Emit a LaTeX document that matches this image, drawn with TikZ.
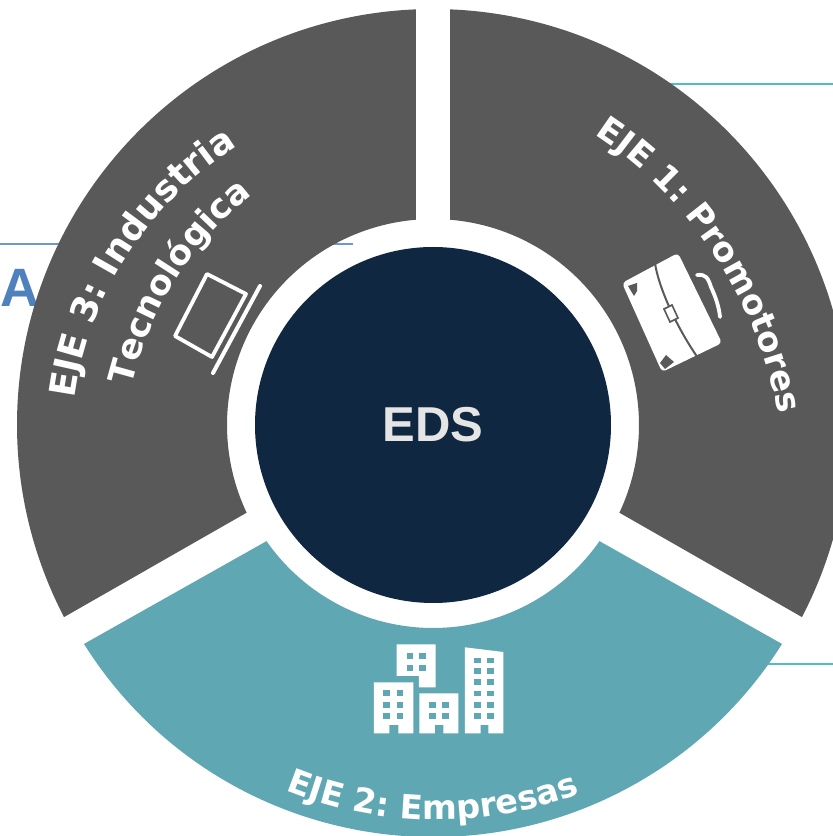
\documentclass[tikz,border=0pt]{standalone}
\usepackage{fontspec}
\setmainfont{DejaVu Sans}
\newfontfamily\edsfont{Liberation Sans}
\usetikzlibrary{calc,decorations.text}
\definecolor{sectorgray}{HTML}{595959}
\definecolor{sectorteal}{HTML}{60A7B4}
\definecolor{hubnavy}{HTML}{0F2740}
\definecolor{ruleteal}{HTML}{4FBCCB}
\definecolor{ruleblue}{HTML}{6F97D5}
\definecolor{titleblue}{HTML}{4F81BD}
\newcommand\axisfont[1]{\bfseries\fontsize{#1}{#1}\selectfont\color{white}}
\tikzset{
  px/.style={x=1pt,y=-1pt,shift={(0pt,836pt)}},
  iconline/.style={draw=white,line cap=round,line join=round,fill=none},
  axistext/.style 2 args={decorate,decoration={text along path,text align=center,text={|\axisfont{#1}|#2}}}
}
\begin{document}
\begin{tikzpicture}[x=1pt,y=1pt]
\useasboundingbox (0,0) rectangle (833,836);
\clip (0,0) rectangle (833,836);
\fill[white] (0,0) rectangle (833,836);
\coordinate (c) at (433,411);
\begin{scope}[px]
  \draw[ruleteal,line width=1.2pt] (660,84) -- (833,84);
  \draw[ruleblue,line width=1.2pt] (0,244) -- (353,244);
  \draw[ruleteal,line width=1.2pt] (760,664) -- (833,664);
  \node[anchor=base east,inner sep=0pt,text=titleblue,font=\edsfont\bfseries\fontsize{54}{54}\selectfont] (title) at (40,307) {CA};
\end{scope}
\fill[sectorgray] ($(c)+(87.65:416pt)$) arc (87.65:-27.5:416pt) -- ($(c)+(-25.2:206pt)$) arc (-25.2:85.2:206pt) -- cycle;
\fill[sectorgray] ($(c)+(92.35:416pt)$) arc (92.35:207.5:416pt) -- ($(c)+(205.2:206pt)$) arc (205.2:94.8:206pt) -- cycle;
\fill[sectorteal] ($(c)+(212.1:412pt)$) arc (212.1:327.9:412pt) -- ($(c)+(325.1:203pt)$) arc (325.1:214.9:203pt) -- cycle;
\node[circle,fill=hubnavy,minimum size=356pt,inner sep=0pt,text=white!90!black,font=\edsfont\bfseries\fontsize{49}{49}\selectfont] (hub) at (c) {EDS};
\begin{scope}[px]
  \path[axistext={34}{EJE 1: Promotores}] (590,132) .. controls (686,192) and (758,298) .. (780,420);
  \path[axistext={36}{EJE 3: Industria}] (74,405) .. controls (85,300) and (150,198) .. (243,143);
  \path[axistext={34.5}{Tecnológica}] (131,388) .. controls (150,310) and (190,242) .. (254,194);
  \path[axistext={33.5}{EJE 2: Empresas}] (280,788) .. controls (380,830) and (490,830) .. (585,791);
  % briefcase
  \fill[white,rounded corners=4pt] (622,283) -- (678,253) -- (722,343) -- (662,372) -- cycle;
  \draw[sectorgray,line width=2pt] (655,263) .. controls (658,285) and (675,325) .. (698,358);
  \fill[white,draw=sectorgray,line width=1.6pt] (664,309) -- (672,305) -- (678,318) -- (670,322) -- cycle;
  \fill[sectorgray] (628,286) -- (637,283) -- (637,291) -- (634,296) -- cycle;
  \fill[sectorgray] (665,369) -- (660,363) -- (666,355) -- (674,362) -- cycle;
  \draw[iconline,line width=3.8pt] (697,275) .. controls (706,274) and (708,278) .. (711,287) .. controls (716,298) and (719,307) .. (720,317);
  % laptop
  \draw[iconline,line width=3.8pt] (207,274) -- (246,294) -- (212,357) -- (175,336) -- cycle;
  \draw[iconline,line width=4pt] (260,286) -- (213,373);
  % buildings
  \begin{scope}[shift={(270,630)},x=0.3333pt,y=-0.3333pt]
    \fill[white] (380,43) -- (497,43) -- (497,172) -- (447,172) -- (447,138) -- (380,138) -- cycle;
    \fill[white] (312,157) -- (430,157) -- (430,310) -- (385,310) -- (385,285) -- (358,285) -- (358,310) -- (312,310) -- cycle;
    \fill[white] (448,190) -- (565,190) -- (565,310) -- (520,310) -- (520,285) -- (495,285) -- (495,310) -- (448,310) -- cycle;
    \fill[white] (585,52) -- (700,66) -- (700,310) -- (655,310) -- (655,285) -- (632,285) -- (632,310) -- (585,310) -- cycle;
    \foreach \wx in {340,380} \foreach \wy in {180,215,250}
      \fill[sectorteal] (\wx,\wy) rectangle ++(20,18);
    \foreach \wx in {410,448} \foreach \wy in {70,105}
      \fill[sectorteal] (\wx,\wy) rectangle ++(20,18);
    \foreach \wx in {477,516} \foreach \wy in {215,250}
      \fill[sectorteal] (\wx,\wy) rectangle ++(20,18);
    \foreach \wx in {613,652} \foreach \wy in {83,115,148,182,216,250}
      \fill[sectorteal] (\wx,\wy) rectangle ++(19,17);
  \end{scope}
\end{scope}
\end{tikzpicture}
\end{document}
